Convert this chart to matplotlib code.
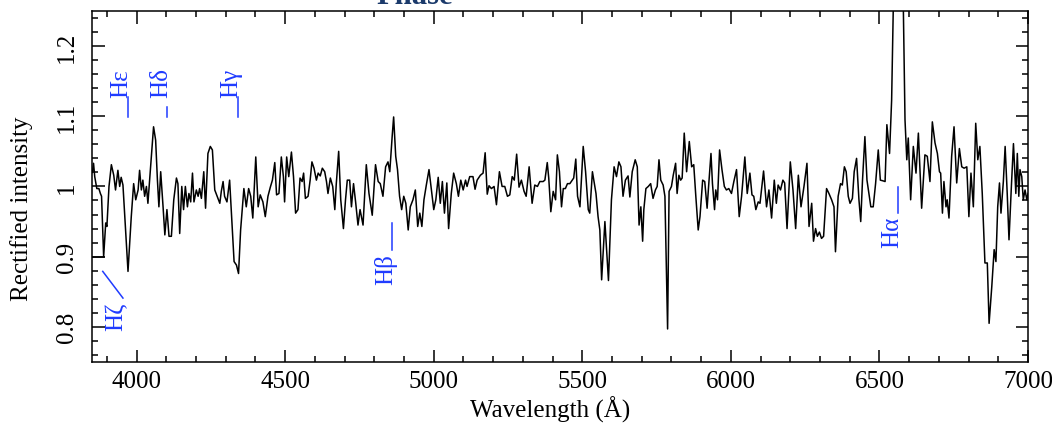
import matplotlib
matplotlib.use("Agg")
import matplotlib.pyplot as plt
from matplotlib.ticker import MultipleLocator, FuncFormatter

plt.rcParams['font.family'] = ['Liberation Serif', 'DejaVu Serif']

# rectified spectrum, wavelength in Angstrom
wavelength = [
    3851, 3855, 3859, 3866, 3873, 3878, 3882, 3889, 3896, 3900, 3907, 3915, 3923, 3929, 3937, 3943,
    3948, 3954, 3971, 3982, 3990, 3997, 4005, 4010, 4016, 4021, 4027, 4033, 4038, 4047, 4057, 4064,
    4070, 4075, 4081, 4089, 4095, 4102, 4109, 4117, 4125, 4134, 4139, 4145, 4152, 4158, 4164, 4171,
    4176, 4182, 4188, 4193, 4201, 4207, 4212, 4218, 4226, 4232, 4240, 4248, 4255, 4263, 4271, 4280,
    4285, 4291, 4296, 4304, 4313, 4328, 4336, 4343, 4350, 4361, 4369, 4377, 4384, 4391, 4401, 4409,
    4416, 4425, 4433, 4442, 4450, 4457, 4465, 4471, 4479, 4487, 4494, 4498, 4505, 4512, 4521, 4528,
    4535, 4543, 4550, 4557, 4562, 4568, 4577, 4584, 4590, 4597, 4605, 4611, 4618, 4625, 4633, 4639,
    4644, 4652, 4660, 4667, 4672, 4680, 4687, 4696, 4703, 4709, 4717, 4723, 4730, 4737, 4745, 4752,
    4762, 4773, 4782, 4793, 4804, 4813, 4820, 4829, 4838, 4846, 4852, 4860, 4865, 4872, 4878, 4885,
    4892, 4899, 4906, 4914, 4921, 4930, 4938, 4946, 4953, 4960, 4967, 4975, 4984, 4992, 5000, 5007,
    5015, 5022, 5029, 5036, 5044, 5050, 5059, 5067, 5076, 5083, 5091, 5099, 5107, 5112, 5121, 5132,
    5139, 5146, 5157, 5166, 5173, 5180, 5186, 5194, 5203, 5211, 5221, 5230, 5239, 5248, 5256, 5264,
    5271, 5279, 5287, 5295, 5304, 5311, 5321, 5331, 5340, 5349, 5357, 5368, 5374, 5382, 5387, 5394,
    5402, 5410, 5416, 5423, 5430, 5436, 5443, 5450, 5458, 5466, 5471, 5478, 5484, 5492, 5503, 5511,
    5520, 5525, 5534, 5546, 5553, 5559, 5565, 5576, 5588, 5598, 5607, 5615, 5623, 5630, 5637, 5645,
    5654, 5660, 5668, 5678, 5685, 5691, 5697, 5703, 5707, 5714, 5722, 5730, 5738, 5746, 5752, 5758,
    5764, 5772, 5778, 5787, 5792, 5800, 5806, 5814, 5819, 5825, 5831, 5836, 5843, 5851, 5860, 5868,
    5875, 5882, 5890, 5896, 5905, 5912, 5920, 5925, 5933, 5938, 5945, 5949, 5955, 5962, 5970, 5978,
    5985, 5993, 6002, 6010, 6019, 6028, 6036, 6047, 6055, 6064, 6071, 6077, 6084, 6092, 6098, 6110,
    6120, 6128, 6137, 6146, 6153, 6159, 6167, 6175, 6181, 6189, 6200, 6209, 6218, 6227, 6236, 6246,
    6256, 6263, 6272, 6278, 6285, 6291, 6298, 6305, 6312, 6322, 6330, 6339, 6347, 6352, 6361, 6369,
    6375, 6382, 6388, 6395, 6401, 6409, 6415, 6423, 6431, 6437, 6443, 6451, 6458, 6465, 6471, 6479,
    6487, 6496, 6503, 6512, 6519, 6525, 6534, 6541, 6547, 6556, 6565, 6573, 6580, 6586, 6592, 6597,
    6605, 6614, 6623, 6631, 6642, 6653, 6661, 6670, 6678, 6687, 6695, 6702, 6706, 6712, 6717, 6724,
    6728, 6734, 6743, 6751, 6760, 6769, 6777, 6785, 6794, 6801, 6808, 6816, 6824, 6831, 6838, 6846,
    6855, 6863, 6869, 6878, 6886, 6892, 6898, 6904, 6909, 6917, 6923, 6930, 6936, 6944, 6951, 6959,
    6964, 6969, 6973, 6979, 6984, 6990, 6996, 7000,
]
intensity = [
    1.020, 1.033, 1.014, 0.997, 0.997, 0.990, 0.986, 0.900, 0.948, 0.943, 1.000, 1.031, 1.016, 0.995, 1.023, 1.000,
    1.013, 1.002, 0.879, 0.957, 1.004, 0.981, 0.995, 1.023, 0.995, 1.009, 0.986, 1.000, 0.976, 1.028, 1.085, 1.066,
    1.009, 0.971, 1.021, 0.971, 0.931, 0.967, 0.929, 0.929, 0.981, 1.012, 1.004, 0.933, 1.000, 0.967, 1.000, 0.971,
    0.990, 0.978, 1.019, 0.978, 0.995, 0.986, 0.997, 0.983, 1.021, 0.969, 1.047, 1.057, 1.052, 0.995, 0.986, 0.976,
    0.993, 1.007, 0.986, 0.978, 1.009, 0.893, 0.888, 0.876, 0.938, 0.997, 0.971, 0.997, 0.986, 0.955, 1.042, 0.971,
    0.988, 0.978, 0.957, 0.986, 0.999, 1.009, 1.034, 0.988, 0.990, 1.042, 1.014, 0.978, 1.042, 1.014, 1.049, 1.014,
    0.962, 0.967, 1.012, 1.007, 1.019, 0.983, 0.986, 1.009, 1.035, 1.026, 1.009, 1.019, 1.015, 1.026, 1.021, 1.007,
    0.990, 1.012, 1.000, 0.967, 1.004, 1.050, 0.981, 0.940, 0.981, 1.009, 1.009, 0.971, 1.004, 0.978, 0.945, 0.967,
    0.945, 1.031, 0.990, 0.959, 1.031, 1.007, 1.004, 0.986, 1.028, 1.035, 1.021, 1.071, 1.099, 1.043, 1.024, 0.986,
    0.967, 0.986, 0.976, 0.938, 0.971, 0.981, 0.995, 0.943, 0.962, 0.943, 0.981, 1.002, 1.024, 0.995, 0.967, 0.981,
    1.013, 0.976, 1.007, 0.962, 1.005, 0.940, 0.990, 1.019, 1.004, 0.986, 1.009, 0.995, 1.009, 1.000, 1.014, 1.014,
    0.996, 1.009, 1.016, 1.019, 1.048, 0.989, 1.001, 0.997, 1.000, 0.974, 1.021, 1.000, 1.000, 0.986, 0.988, 1.014,
    1.009, 1.046, 0.999, 1.009, 0.993, 0.986, 1.028, 0.976, 1.002, 1.000, 1.007, 1.007, 1.009, 1.034, 1.012, 0.964,
    0.993, 0.981, 1.045, 1.021, 0.971, 0.997, 0.997, 1.004, 1.004, 1.009, 1.012, 1.039, 0.986, 0.971, 1.057, 1.021,
    0.967, 0.962, 1.021, 0.990, 0.957, 0.938, 0.867, 0.950, 0.866, 0.981, 1.028, 1.014, 1.035, 1.028, 0.986, 1.009,
    1.015, 0.985, 1.021, 1.038, 1.028, 0.945, 0.971, 0.922, 0.967, 0.997, 1.000, 1.004, 0.983, 0.995, 1.000, 1.038,
    1.009, 1.002, 0.986, 0.797, 0.993, 1.000, 1.016, 1.033, 0.990, 1.016, 1.009, 1.012, 1.076, 1.021, 1.064, 1.028,
    1.031, 0.986, 0.938, 0.957, 1.009, 1.007, 0.969, 1.000, 1.047, 1.004, 0.967, 0.995, 0.981, 1.052, 1.024, 1.000,
    0.995, 0.997, 0.990, 1.007, 1.024, 0.957, 0.986, 1.042, 0.990, 1.019, 0.988, 0.986, 0.967, 0.978, 0.976, 1.022,
    0.971, 0.995, 0.955, 1.009, 0.976, 1.002, 0.995, 1.009, 1.005, 0.940, 1.035, 0.995, 0.940, 1.016, 0.971, 1.000,
    1.033, 0.943, 0.976, 0.922, 0.940, 0.929, 0.935, 0.926, 0.929, 0.997, 0.990, 0.981, 0.971, 0.907, 0.986, 1.004,
    1.002, 1.028, 1.021, 0.986, 0.976, 0.983, 1.021, 1.040, 0.981, 0.950, 1.009, 1.071, 1.009, 0.988, 0.971, 0.971,
    1.004, 1.052, 1.009, 1.008, 1.007, 1.088, 1.047, 1.123, 1.266, 1.380, 1.450, 1.360, 1.266, 1.095, 1.038, 1.069,
    0.981, 1.057, 1.019, 1.076, 0.969, 1.045, 1.043, 1.007, 1.092, 1.062, 1.047, 1.021, 1.019, 0.962, 1.007, 0.971,
    0.981, 0.955, 1.043, 1.085, 1.005, 1.054, 1.028, 1.026, 1.028, 0.957, 1.019, 0.971, 1.090, 1.038, 1.057, 0.990,
    0.891, 0.891, 0.805, 0.857, 0.910, 0.893, 0.971, 1.005, 0.962, 1.007, 1.057, 0.990, 0.924, 1.000, 1.061, 0.990,
    1.047, 0.986, 1.024, 1.014, 0.981, 0.995, 0.981, 0.990,
]

# flat stretch at the blue end of the spectrum
edge_wavelength = [3840, 3889]
edge_intensity = [0.90, 0.90]

label_color = '#1f3bff'

fig = plt.figure(figsize=(10.52, 4.27), dpi=100)
ax = fig.add_axes([0.0875, 0.150, 0.8897, 0.822])

ax.plot(wavelength, intensity, color='k', lw=1.1)
ax.plot(edge_wavelength, edge_intensity, color='k', lw=1.1)

ax.set_xlim(3850, 7000)
ax.set_ylim(0.75, 1.25)
ax.xaxis.set_major_locator(MultipleLocator(500))
ax.xaxis.set_minor_locator(MultipleLocator(100))
ax.yaxis.set_major_locator(MultipleLocator(0.1))
ax.yaxis.set_minor_locator(MultipleLocator(0.02))
ax.yaxis.set_major_formatter(FuncFormatter(lambda v, p: '%g' % round(v, 2)))
ax.tick_params(which='both', direction='in', top=True, right=True, width=1.1, labelsize=18)
ax.tick_params(which='major', length=9)
ax.tick_params(which='minor', length=4.5)
ax.tick_params(axis='x', pad=6)
ax.tick_params(axis='y', pad=10)
plt.setp(ax.get_yticklabels(), rotation=90, va='center')
for s in ax.spines.values():
    s.set_linewidth(1.1)

ax.set_xlabel('Wavelength (Å)', fontsize=18)
ax.set_ylabel('Rectified intensity', fontsize=18)
ax.xaxis.set_label_coords(0.489, -0.097)
ax.yaxis.set_label_coords(-0.063, 0.44)

# hydrogen line markers
kw = dict(color=label_color, fontsize=18, rotation=90, rotation_mode='anchor', va='baseline')
for lam, name, y0, y1, ytxt in [(3970, 'Hε', 1.099, 1.127, 1.127),
                                (4102, 'Hδ', 1.099, 1.113, 1.127),
                                (4340, 'Hγ', 1.099, 1.127, 1.127)]:
    ax.plot([lam, lam], [y0, y1], color=label_color, lw=1.1)
    ax.text(lam, ytxt, name, ha='left', **kw)

for lam, name, y0, y1, ytxt in [(4861, 'Hβ', 0.948, 0.910, 0.905),
                                (6563, 'Hα', 0.999, 0.962, 0.958)]:
    ax.plot([lam, lam], [y0, y1], color=label_color, lw=1.1)
    ax.text(lam, ytxt, name, ha='right', **kw)

ax.plot([3886, 3954], [0.879, 0.841], color=label_color, lw=1.1)
ax.text(3953, 0.836, 'Hζ', ha='right', **kw)

fig.text(0.358, 0.9906, 'Phase', color='#1b3a6b', fontsize=22, fontweight='bold',
         ha='left', va='baseline')

fig.savefig('out.png', dpi=100)
